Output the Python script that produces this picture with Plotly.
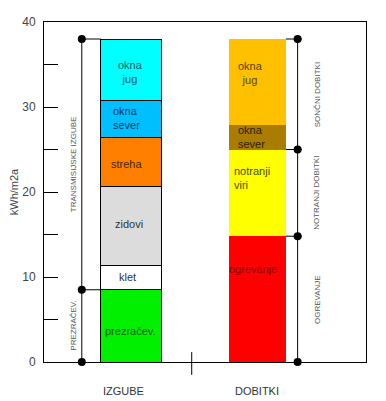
import plotly.graph_objects as go
import numpy as np

# ---- data ----
categories = ["IZGUBE", "DOBITKI"]

loss_labels = ["prezračev.", "klet", "zidovi", "streha", "okna<br>sever", "okna<br>jug"]
loss_values = [8.5, 2.9, 9.3, 5.7, 4.4, 7.2]

gain_labels = ["ogrevanje", "notranji<br>viri", "okna<br>sever", "okna<br>jug"]
gain_values = [14.8, 10.2, 2.9, 10.1]

loss_groups = ["PREZRAČEV.", "TRANSMISIJSKE IZGUBE"]
loss_group_sizes = [1, 5]          # number of segments in each group
gain_groups = ["OGREVANJE", "NOTRANJI DOBITKI", "SONČNI DOBITKI"]
gain_group_sizes = [1, 1, 2]

y_tick_values = [0, 5, 10, 15, 20, 25, 30, 35, 40]
y_tick_labels = ["0", "", "10", "", "20", "", "30", "", "40"]

# ---- styles ----
loss_colors = ["#00F000", "#FFFFFF", "#DCDCDC", "#FF8000", "#00BFFF", "#00FFFF"]
gain_colors = ["#FF0000", "#FFFF00", "#AA7C00", "#FFC000"]
loss_text_colors = ["#0B5A0B", "#333333", "#333333", "#4A2600", "#0A3A5A", "#1A5A66"]
gain_text_colors = ["#8A0000", "#4A4A00", "#2A1E00", "#5A4000"]
loss_align = ["center", "center", "center", "center", "left", "center"]
gain_align = ["left", "left", "left", "center"]
loss_shift = [(-1, -5), (-4, 0), (-2, 2), (-5, -2), (-5, 1), (-1, -2)]   # (xshift, yshift) px
gain_shift = [(-4, 30), (-5, 15), (-6, 0), (-7, 9)]
loss_width = 0.483
gain_width = 0.451
FONT = "Arial, Liberation Sans, sans-serif"

x_left_bracket = -0.390
x_left_label = -0.453
x_right_bracket = 1.318
x_right_line_end = 1.352
x_right_label = 1.471

fig = go.Figure()

def add_stack(idx, labels, values, colors, tcolors, aligns, width, outline, shifts):
    cum = np.concatenate([[0], np.cumsum(values)])
    for i, (lab, v, c) in enumerate(zip(labels, values, colors)):
        fig.add_trace(go.Bar(
            x=[idx], y=[v], width=[width], marker_color=c,
            marker_line=dict(color="black", width=1 if outline else 0),
            showlegend=False, hoverinfo="skip"))
        fig.add_annotation(
            x=idx, y=(cum[i] + cum[i + 1]) / 2, text=lab, showarrow=False,
            xshift=shifts[i][0], yshift=shifts[i][1], align=aligns[i],
            font=dict(family=FONT, size=11, color=tcolors[i]))
    return cum

loss_cum = add_stack(0, loss_labels, loss_values, loss_colors, loss_text_colors,
                     loss_align, loss_width, True, loss_shift)
gain_cum = add_stack(1, gain_labels, gain_values, gain_colors, gain_text_colors,
                     gain_align, gain_width, False, gain_shift)

line = dict(color="black", width=1)

# left bracket
lb_idx = np.concatenate([[0], np.cumsum(loss_group_sizes)])
lb_levels = [float(loss_cum[k]) for k in lb_idx]
fig.add_shape(type="line", x0=x_left_bracket, x1=x_left_bracket, y0=lb_levels[0], y1=lb_levels[-1],
              xref="x", yref="y", line=line, layer="above")
for lv in lb_levels[1:]:
    fig.add_shape(type="line", x0=x_left_bracket, x1=-loss_width / 2, y0=lv, y1=lv,
                  xref="x", yref="y", line=line, layer="above")
for g, a, b in zip(loss_groups, lb_levels[:-1], lb_levels[1:]):
    fig.add_annotation(x=x_left_label, y=(a + b) / 2, text=g, textangle=-90, showarrow=False,
                       font=dict(family=FONT, size=8, color="#555555"))

# right bracket
rb_idx = np.concatenate([[0], np.cumsum(gain_group_sizes)])
rb_levels = [float(gain_cum[k]) for k in rb_idx]
fig.add_shape(type="line", x0=x_right_bracket, x1=x_right_bracket, y0=rb_levels[0], y1=rb_levels[-1],
              xref="x", yref="y", line=line, layer="above")
for lv in rb_levels[1:]:
    fig.add_shape(type="line", x0=1 + gain_width / 2, x1=x_right_line_end, y0=lv, y1=lv,
                  xref="x", yref="y", line=line, layer="above")
for g, a, b in zip(gain_groups, rb_levels[:-1], rb_levels[1:]):
    fig.add_annotation(x=x_right_label, y=(a + b) / 2, text=g, textangle=-90, showarrow=False,
                       font=dict(family=FONT, size=8, color="#555555"))

# dots
fig.add_trace(go.Scatter(
    x=[x_left_bracket] * len(lb_levels) + [x_right_bracket] * len(rb_levels),
    y=lb_levels + rb_levels, mode="markers",
    marker=dict(color="black", size=8), cliponaxis=False,
    showlegend=False, hoverinfo="skip"))

# category separator tick crossing the x axis
fig.add_shape(type="line", x0=0.48, x1=0.48, y0=-0.038, y1=0.029, xref="x", yref="paper",
              line=line, layer="above")

# category labels
for i, c in enumerate(categories):
    fig.add_annotation(x=i, y=0, yref="y", text=c, showarrow=False, yshift=-29,
                       xshift=-8 if i == 0 else 0,
                       font=dict(family=FONT, size=11, color="#333333"))

# page body has an 8px margin; figure sized/margined to compensate
fig.update_layout(
    barmode="stack",
    width=378, height=393,
    margin=dict(l=36, r=20, t=14, b=39),
    plot_bgcolor="white", paper_bgcolor="white",
    showlegend=False,
    xaxis=dict(range=[-0.689, 1.859], showticklabels=False, ticks="", showgrid=False,
               zeroline=False, showline=True, linecolor="black", linewidth=1, mirror=True,
               automargin=False),
    yaxis=dict(range=[0, 40], tickvals=y_tick_values, ticktext=y_tick_labels,
               ticks="inside", ticklen=14, tickcolor="black", tickwidth=1,
               showgrid=False, zeroline=False, showline=True, linecolor="black",
               linewidth=1, mirror=True, ticklabelstandoff=5, automargin=False,
               tickfont=dict(family=FONT, size=12, color="#444444"),
               title=dict(text="kWh/m2a", standoff=7,
                          font=dict(family=FONT, size=11, color="#444444"))),
)

fig.write_html("out.html")
